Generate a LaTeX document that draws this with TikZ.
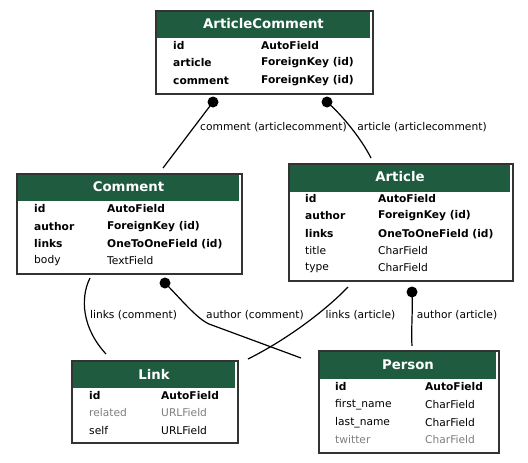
\documentclass[tikz,border=0pt]{standalone}
\usepackage{fontspec}
\setmainfont{DejaVu Sans}
\usetikzlibrary{calc}
\definecolor{hdr}{HTML}{1E5B3F}
\definecolor{brd}{HTML}{333333}
\definecolor{dim}{HTML}{7F7F7F}
\begin{document}
\begin{tikzpicture}[x=1pt,y=-1pt,
  tbl/.style={draw=brd,line width=1.5pt,fill=white,anchor=north west,inner sep=0pt},
  hdrtxt/.style={text=white,font=\fontsize{13.3}{15}\selectfont\bfseries,inner sep=0pt},
  keyf/.style={anchor=west,inner sep=0pt,font=\fontsize{10.67}{12}\selectfont\bfseries},
  plainf/.style={anchor=west,inner sep=0pt,font=\fontsize{10.67}{12}\selectfont},
  dimf/.style={anchor=west,inner sep=0pt,font=\fontsize{10.67}{12}\selectfont,text=dim},
  lbl/.style={inner sep=0pt,font=\fontsize{10.67}{12}\selectfont},
  conn/.style={line width=1.2pt,black},
  dotc/.style={fill=black,circle,inner sep=0pt,minimum size=11pt}]
\useasboundingbox (0,0) rectangle (528,463);
% ---- ArticleComment
\node[tbl,minimum width=217pt,minimum height=83pt] (ac) at (155,10) {};
\fill[hdr] (157,12) rectangle (370,38);
\node[hdrtxt] (acH) at (263.5,24) {ArticleComment};
\node[keyf] (ac1) at (173,46) {id};
\node[keyf] (ac1t) at (261,46) {AutoField};
\node[keyf] (ac2) at (173,63) {article};
\node[keyf] (ac2t) at (261,63) {ForeignKey (id)};
\node[keyf] (ac3) at (173,81) {comment};
\node[keyf] (ac3t) at (261,81) {ForeignKey (id)};
% ---- Comment
\node[tbl,minimum width=225pt,minimum height=100pt] (cm) at (16,173) {};
\fill[hdr] (18,175) rectangle (239,201);
\node[hdrtxt] (cmH) at (128.5,187) {Comment};
\node[keyf] (cm1) at (34,209) {id};
\node[keyf] (cm1t) at (107,209) {AutoField};
\node[keyf] (cm2) at (34,227) {author};
\node[keyf] (cm2t) at (107,227) {ForeignKey (id)};
\node[keyf] (cm3) at (34,244) {links};
\node[keyf] (cm3t) at (107,244) {OneToOneField (id)};
\node[plainf] (cm4) at (34,261) {body};
\node[plainf] (cm4t) at (107,261) {TextField};
% ---- Article
\node[tbl,minimum width=224pt,minimum height=117pt] (ar) at (288,163) {};
\fill[hdr] (290,165) rectangle (510,192);
\node[hdrtxt] (arH) at (400,177) {Article};
\node[keyf] (ar1) at (305,199) {id};
\node[keyf] (ar1t) at (378,199) {AutoField};
\node[keyf] (ar2) at (305,216) {author};
\node[keyf] (ar2t) at (378,216) {ForeignKey (id)};
\node[keyf] (ar3) at (305,234) {links};
\node[keyf] (ar3t) at (378,234) {OneToOneField (id)};
\node[plainf] (ar4) at (305,251) {title};
\node[plainf] (ar4t) at (378,251) {CharField};
\node[plainf] (ar5) at (305,268) {type};
\node[plainf] (ar5t) at (378,268) {CharField};
% ---- Link
\node[tbl,minimum width=166pt,minimum height=82pt] (lk) at (71,360) {};
\fill[hdr] (73,362) rectangle (235,388);
\node[hdrtxt] (lkH) at (154,374) {Link};
\node[keyf] (lk1) at (89,396) {id};
\node[keyf] (lk1t) at (161,396) {AutoField};
\node[dimf] (lk2) at (89,413) {related};
\node[dimf] (lk2t) at (161,413) {URLField};
\node[plainf] (lk3) at (89,431) {self};
\node[plainf] (lk3t) at (161,431) {URLField};
% ---- Person
\node[tbl,minimum width=180pt,minimum height=102pt] (ps) at (318,350) {};
\fill[hdr] (320,352) rectangle (496,379);
\node[hdrtxt] (psH) at (408,365) {Person};
\node[keyf] (ps1) at (335,387) {id};
\node[keyf] (ps1t) at (425,387) {AutoField};
\node[plainf] (ps2) at (335,405) {first\_name};
\node[plainf] (ps2t) at (425,405) {CharField};
\node[plainf] (ps3) at (335,423) {last\_name};
\node[plainf] (ps3t) at (425,423) {CharField};
\node[dimf] (ps4) at (335,440) {twitter};
\node[dimf] (ps4t) at (425,440) {CharField};
% ---- connector ends
\coordinate (e1a) at (213,102);
\coordinate (e1b) at (163,168);
\coordinate (e2a) at (327,102);
\coordinate (e2b) at (371,158);
\coordinate (e3a) at (90,278);
\coordinate (e3b) at (106,354);
\coordinate (e4a) at (165,283);
\coordinate (e4m) at (209,324);
\coordinate (e4b) at (301,358);
\coordinate (e5a) at (348,287);
\coordinate (e5b) at (248,359);
\coordinate (e6a) at (412,292);
\coordinate (e6b) at (412,346);
% ---- connectors
\draw[conn] (e1a) -- (e1b);
\draw[conn] (e2a) .. controls (341,114) and (361,138) .. (e2b);
\draw[conn] (e3a) .. controls (80,298) and (82,328) .. (e3b);
\draw[conn] (e4a) .. controls (180,298) and (196,318) .. (e4m) -- (e4b);
\draw[conn] (e5a) .. controls (328,308) and (290,338) .. (e5b);
\draw[conn] (e6a) .. controls (413,310) and (411,330) .. (e6b);
\node[dotc] (d1) at (e1a) {};
\node[dotc] (d2) at (e2a) {};
\node[dotc] (d4) at (e4a) {};
\node[dotc] (d6) at (e6a) {};
% ---- labels
\node[lbl] (l1) at (273.5,127) {comment (articlecomment)};
\node[lbl] (l2) at (422,127) {article (articlecomment)};
\node[lbl] (l3) at (133.5,315) {links (comment)};
\node[lbl] (l4) at (255,315) {author (comment)};
\node[lbl] (l5) at (360.5,315) {links (article)};
\node[lbl] (l6) at (457,315) {author (article)};
\end{tikzpicture}
\end{document}
